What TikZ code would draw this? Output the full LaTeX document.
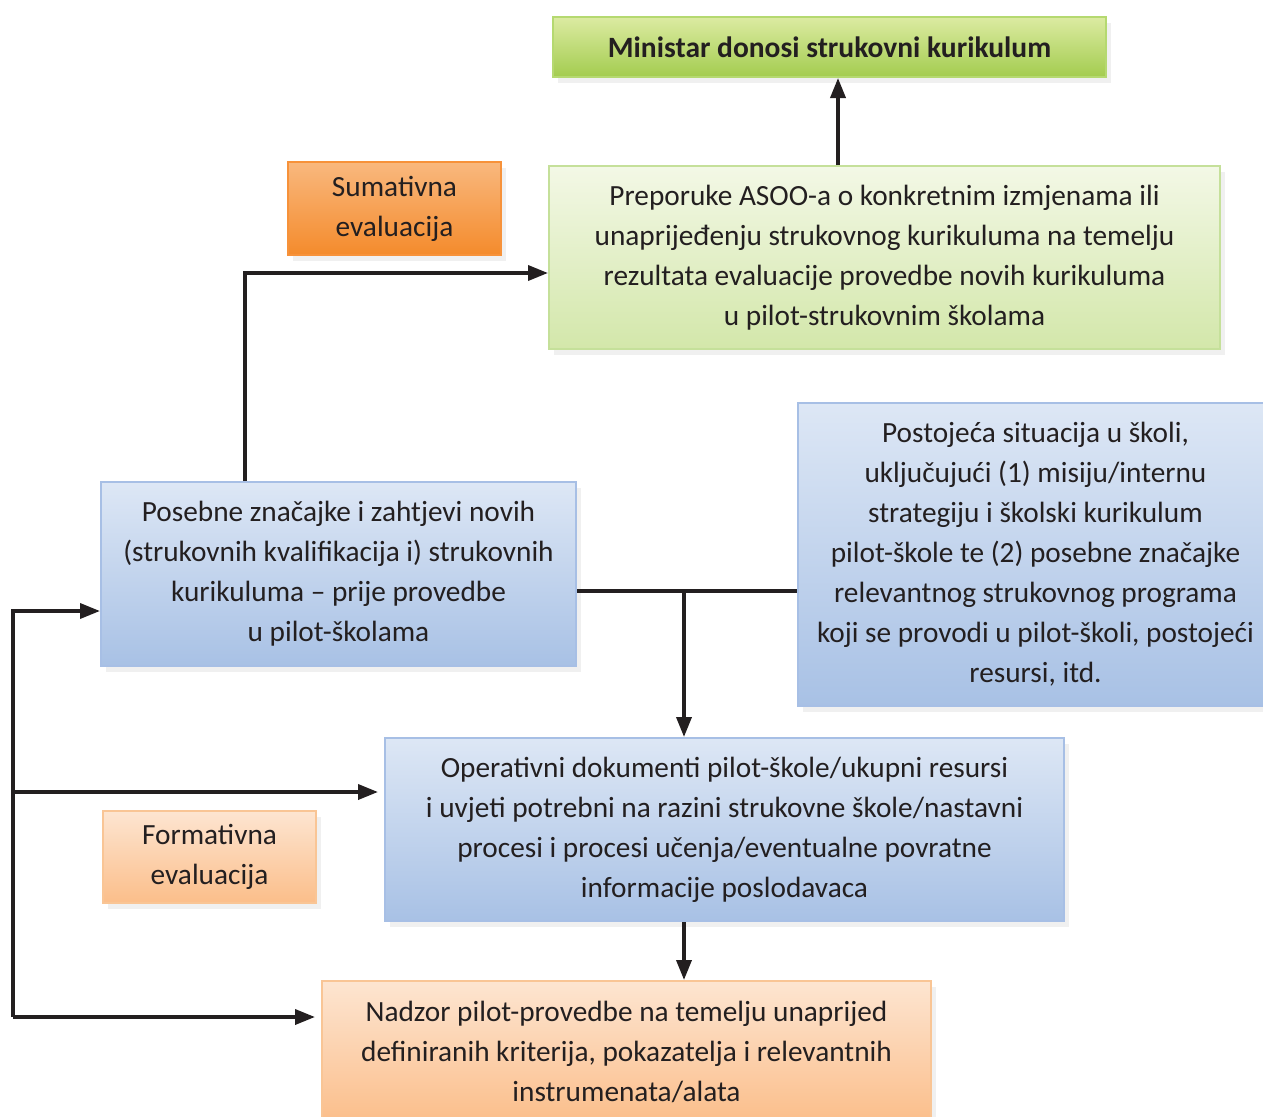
\documentclass[tikz,border=0pt]{standalone}
\usepackage{fontspec}
\setmainfont{Carlito}
\usetikzlibrary{arrows.meta, positioning, shadows}
\definecolor{txtcol}{HTML}{231F20}
\definecolor{greentop}{HTML}{DCEBA2}
\definecolor{greenbot}{HTML}{A3CC4F}
\definecolor{greenline}{HTML}{B5D970}
\definecolor{lgreentop}{HTML}{F3F8E6}
\definecolor{lgreenbot}{HTML}{D3E7AA}
\definecolor{lgreenline}{HTML}{C5E09A}
\definecolor{orangetop}{HTML}{F9B87E}
\definecolor{orangebot}{HTML}{F48B2C}
\definecolor{orangeline}{HTML}{F7923A}
\definecolor{peachtop}{HTML}{FDE5D1}
\definecolor{peachbot}{HTML}{FBBE8A}
\definecolor{peachline}{HTML}{F9C595}
\definecolor{bluetop}{HTML}{DDE7F5}
\definecolor{bluebot}{HTML}{A8C1E5}
\definecolor{blueline}{HTML}{A7BFE5}

\begin{document}
\begin{tikzpicture}[x=1pt,y=-1pt,
    >={Triangle[length=20pt,width=15pt]},
    conn/.style={line width=3.6pt,draw=txtcol},
    box/.style={draw,line width=2pt,align=center,inner sep=0pt,text=txtcol,
      font=\fontsize{29.3}{40}\selectfont,
      drop shadow={opacity=0.12,shadow xshift=5pt,shadow yshift=-6pt}},
    greenbox/.style={box,draw=greenline,top color=greentop,bottom color=greenbot},
    lgreenbox/.style={box,draw=lgreenline,top color=lgreentop,bottom color=lgreenbot},
    orangebox/.style={box,draw=orangeline,top color=orangetop,bottom color=orangebot},
    peachbox/.style={box,draw=peachline,top color=peachtop,bottom color=peachbot},
    bluebox/.style={box,draw=blueline,top color=bluetop,bottom color=bluebot}]
  \useasboundingbox (0,0) rectangle (1263,1116);

  % boxes
  \node[greenbox, minimum width=553pt, minimum height=60pt,
    font=\fontsize{29.5}{40}\selectfont\bfseries] (minister) at (829.5,47)
    {Ministar donosi strukovni kurikulum};
  \node[lgreenbox, minimum width=671pt, minimum height=183pt] (preporuke) at (884.5,257.5)
    {Preporuke ASOO-a o konkretnim izmjenama ili\\
     unaprijeđenju strukovnog kurikuluma na temelju\\
     rezultata evaluacije provedbe novih kurikuluma\\
     u pilot-strukovnim školama};
  \node[orangebox, minimum width=213pt, minimum height=93pt] (sumativna) at (394.5,208.5)
    {Sumativna\\evaluacija};
  \node[bluebox, minimum width=475pt, minimum height=184pt] (posebne) at (338.5,574)
    {Posebne značajke i zahtjevi novih\\
     (strukovnih kvalifikacija i) strukovnih\\
     kurikuluma -- prije provedbe\\
     u pilot-školama};
  \node[bluebox, minimum width=475pt, minimum height=303pt] (postojeca) at (1035.5,554.5)
    {Postojeća situacija u školi,\\
     uključujući (1) misiju/internu\\
     strategiju i školski kurikulum\\
     pilot-škole te (2) posebne značajke\\
     relevantnog strukovnog programa\\
     koji se provodi u pilot-školi, postojeći\\
     resursi, itd.};
  \node[bluebox, minimum width=679pt, minimum height=183pt] (operativni) at (724.5,829.5)
    {Operativni dokumenti pilot-škole/ukupni resursi\\
     i uvjeti potrebni na razini strukovne škole/nastavni\\
     procesi i procesi učenja/eventualne povratne\\
     informacije poslodavaca};
  \node[peachbox, minimum width=213pt, minimum height=92pt] (formativna) at (209.5,857)
    {Formativna\\evaluacija};
  \node[peachbox, minimum width=609pt, minimum height=142pt] (nadzor) at (626.5,1052)
    {Nadzor pilot-provedbe na temelju unaprijed\\
     definiranih kriterija, pokazatelja i relevantnih\\
     instrumenata/alata};

  % connectors
  \coordinate (split) at (684,591);
  \coordinate (fbtop) at (13,611);
  \coordinate (fbmid) at (13,792);
  \coordinate (fbbot) at (13,1017);
  \draw[conn,->] (preporuke.north -| 838,0) -- (minister.south -| 838,0);
  \draw[conn,->] (posebne.north -| 245,0) |- (preporuke.west |- 0,273);
  \draw[conn] (posebne.east |- split) -- (postojeca.west |- split);
  \draw[conn,->] (split) -- (operativni.north -| split);
  \draw[conn,->] (operativni.south -| split) -- (nadzor.north -| split);
  \draw[conn,->] (fbbot) -- (fbtop) -- (posebne.west |- fbtop);
  \draw[conn,->] (fbmid) -- ([xshift=-6pt]operativni.west |- fbmid);
  \draw[conn,->] (fbbot) -- ([xshift=-6pt]nadzor.west |- fbbot);
\end{tikzpicture}
\end{document}
